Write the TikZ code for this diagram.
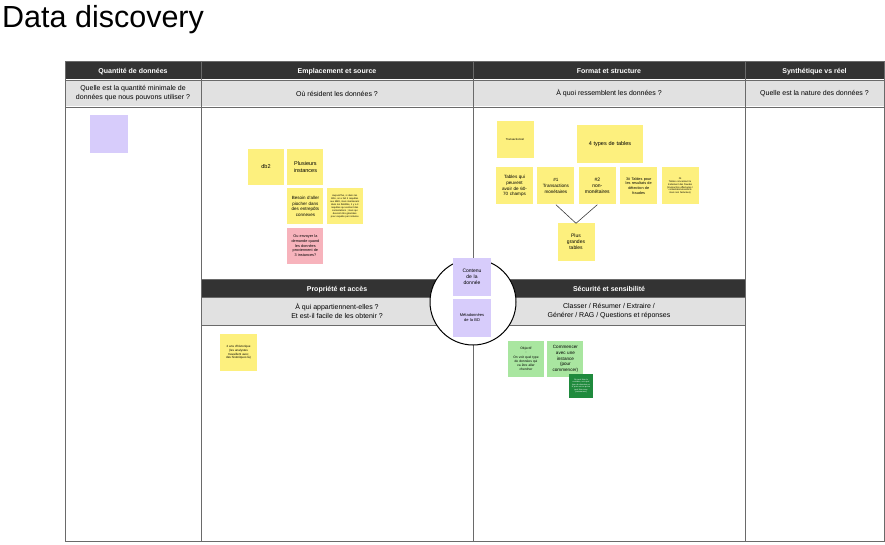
\documentclass[tikz,border=0pt]{standalone}
\usepackage{fontspec}
\setmainfont{Liberation Sans}
\usetikzlibrary{positioning}
\definecolor{hdrgray}{HTML}{333333}
\definecolor{qgray}{HTML}{E1E1E1}
\definecolor{framegray}{HTML}{6A6A6A}
\definecolor{noteyellow}{HTML}{FDF07E}
\definecolor{notepink}{HTML}{F7B3BC}
\definecolor{notepurple}{HTML}{D7CCFB}
\definecolor{notegreen}{HTML}{A9E6A0}
\definecolor{darkgreen}{HTML}{1F8A3D}

\begin{document}
\begin{tikzpicture}[
	x=1pt, y=-1pt,
	node distance=3pt,
	colhead/.style={fill=hdrgray, text=white, font=\bfseries\fontsize{7}{8.5}\selectfont,
		minimum height=18pt, inner sep=0pt, text height=1.6ex, text depth=0.45ex},
	question/.style={fill=qgray, font=\fontsize{7}{9}\selectfont, align=center,
		minimum height=26pt, inner sep=0pt},
	frame/.style={draw=framegray, line width=0.8pt},
	note/.style={fill=noteyellow, minimum size=36pt, text width=33pt, align=center,
		inner sep=1.5pt, font=\fontsize{5}{6}\selectfont},
	tinynote/.style={note, font=\fontsize{2.4}{2.9}\selectfont}
	]
\useasboundingbox (0,0) rectangle (885,545);
\node[anchor=base west, font=\fontsize{30.5}{32}\selectfont, inner sep=0pt] (title) at (2,28) {Data discovery};

% top header rows
\node[colhead, minimum width=136pt] (hquant) at (133,70) {Quantité de données};
\node[colhead, minimum width=272pt] (hempl) at (337,70) {Emplacement et source};
\node[colhead, minimum width=272pt] (hform) at (609,70) {Format et structure};
\node[colhead, minimum width=139pt] (hsynth) at (814.5,70) {Synthétique vs réel};
\node[question, minimum width=136pt] (qquant) at (133,93.5) {Quelle est la quantité minimale de\\données que nous pouvons utiliser ?};
\node[question, minimum width=272pt] (qempl) at (337,93.5) {Où résident les données ?};
\node[question, minimum width=272pt] (qform) at (609,93.5) {À quoi ressemblent les données ?};
\node[question, minimum width=139pt] (qsynth) at (814.5,93.5) {Quelle est la nature des données ?};

% lower header rows
\node[colhead, minimum width=272pt] (hprop) at (337,288) {Propriété et accès};
\node[colhead, minimum width=272pt] (hsecu) at (609,288) {Sécurité et sensibilité};
\node[question, minimum width=272pt, minimum height=28pt] (qprop) at (337,311) {À qui appartiennent-elles ?\\Et est-il facile de les obtenir ?};
\node[question, minimum width=272pt, minimum height=28pt] (qsecu) at (609,311) {Classer / Résumer / Extraire /\\Générer / RAG / Questions et réponses};

% grid
\draw[frame] (65,61) rectangle (884,541);
\draw[frame] (65,80) -- (884,80);
\draw[frame] (65,107) -- (884,107);
\draw[frame] (201,61) -- (201,541);
\draw[frame] (473,61) -- (473,541);
\draw[frame] (745,61) -- (745,541);
\draw[frame] (201,279) -- (745,279);
\draw[frame] (201,297) -- (745,297);
\draw[frame] (201,325) -- (745,325);

% centre
\node[circle, draw, line width=1pt, fill=white, minimum size=86pt] (hub) at (473,302) {};
\node[note, fill=notepurple, minimum size=38pt, text width=34pt] (contenu) at (472,276.5) {Contenu\\de la\\donnée};
\node[note, fill=notepurple, minimum size=38pt, text width=34pt, font=\fontsize{4}{5}\selectfont, below=3pt of contenu] (metadata) {Métadonnées\\de la BD};

% quantite
\node[note, fill=notepurple, minimum size=38pt] (quantnote) at (109,134) {};

% emplacement
\node[note, font=\fontsize{5.5}{6.5}\selectfont] (db2) at (266,167) {db2};
\node[note, font=\fontsize{5.5}{6.5}\selectfont, right=of db2] (instances) {Plusieurs\\instances};
\node[note, font=\fontsize{4.5}{5.5}\selectfont, below=of instances] (piocher) {Besoin d'aller\\piocher dans\\des entrepôts\\connexes};
\node[tinynote, right=of piocher] (requetes) {Aujourd'hui, si dans les\\BDs, on a fait 3 requêtes\\aux BBD, mais maintenant\\dans les fiabilités, il y a 3\\requêtes qui existent des\\contestations ; mais qui\\devront être générées\\pour requête par instance};
\node[note, fill=notepink, font=\fontsize{3.8}{4.8}\selectfont, below=of piocher] (envoyer) {Ou envoyer la\\demande quand\\les données\\proviennent de\\3 instances?};

% format
\node[note, minimum size=37pt, font=\fontsize{2.8}{3.4}\selectfont] (transac) at (515,140) {Transactionnel};
\node[note, minimum width=66pt, minimum height=38pt, text width=62pt, font=\fontsize{5.5}{6.5}\selectfont] (types) at (610,144) {4 types de tables};
\node[note, minimum size=37pt, font=\fontsize{4.6}{5.8}\selectfont] (champs) at (514.5,186) {Tables qui\\peuvent\\avoir de 60-\\70 champs};
\node[note, minimum size=37pt, font=\fontsize{4.6}{5.8}\selectfont, right=4pt of champs] (tx1) {\#1\\Transactions\\monétaires};
\node[note, minimum size=37pt, font=\fontsize{5}{6.2}\selectfont, right=4pt of tx1] (tx2) {\#2\\non-\\monétaires};
\node[note, minimum size=37pt, font=\fontsize{3.8}{4.8}\selectfont, right=4pt of tx2] (fraudes) {3\# Tables pour\\les resultats de\\détection de\\fraudes};
\node[tinynote, minimum size=37pt, right=4pt of fraudes] (tx4) {\#4\\Tables concernant le\\traitement des fraudes\\(transaction effectuées /\\contestations/verdicts\\mais non facturées)};
\node[note, minimum size=37pt, font=\fontsize{5}{6.2}\selectfont] (grandes) at (576,242) {Plus\\grandes\\tables};
\draw[darkgray, line width=0.6pt] (tx1.south) -- (grandes.north) -- (tx2.south);

% propriete
\node[tinynote, minimum size=37pt, font=\fontsize{3}{3.8}\selectfont] (historique) at (238.5,352.5) {2 ans d'historique\\(les analystes\\travaillent avec\\des historiques là)};

% securite
\node[note, fill=notegreen, font=\fontsize{3.3}{4.3}\selectfont] (objectif) at (526,359) {Objectif\\:\\On voit quel type\\de données qui\\va être aller\\chercher};
\node[note, fill=notegreen, font=\fontsize{4.6}{5.6}\selectfont, right=of objectif] (commencer) {Commencer\\avec une\\instance\\(pour\\commencer)};
\node[note, fill=darkgreen, text=white, minimum size=24pt, text width=22pt, inner sep=1pt, font=\fontsize{2}{2.5}\selectfont] (contraire) at (581,386) {On peut faire le\\contraire, voir quel\\type de données on\\a, puis voir ce qu'on\\peut faire avec\\(commencer)};
\end{tikzpicture}
\end{document}
